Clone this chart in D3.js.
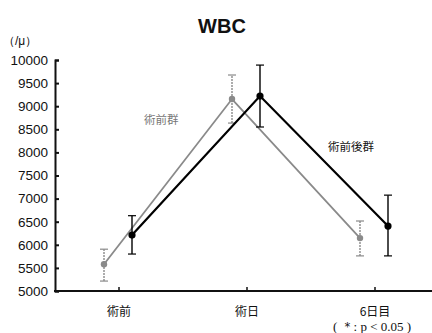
<html>
<head>
<style>
  body{margin:0;background:#fff}
  svg text{font-family:"Liberation Sans",Arial,sans-serif;fill:#111}
  .jp{font-family:"Noto Sans CJK JP",sans-serif}
</style>
</head>
<body>
<div id="chart"></div>
<script src="https://d3js.org/d3.v7.min.js"></script>
<script>
var categories = ['術前', '術日', '6日目'];
var yTicks = [5000, 5500, 6000, 6500, 7000, 7500, 8000, 8500, 9000, 9500, 10000];

// 術前群 (gray)
var preMean = [5580, 9155, 6145];
var preLow  = [5215, 8635, 5760];
var preHigh = [5905, 9675, 6515];

// 術前後群 (black)
var postMean = [6210, 9220, 6405];
var postLow  = [5800, 8550, 5760];
var postHigh = [6630, 9890, 7075];

var width = 432, height = 333;

var svg = d3.select('#chart').append('svg')
  .attr('width', width)
  .attr('height', height);

var x = d3.scalePoint()
  .domain(categories)
  .range([119, 375]);

var y = d3.scaleLinear()
  .domain([5000, 10000])
  .range([291, 60]);

// title
svg.append('text')
  .attr('x', 222).attr('y', 33)
  .attr('text-anchor', 'middle')
  .style('font-weight', 'bold')
  .style('font-size', '20px')
  .text('WBC');

svg.append('text')
  .attr('x', 3).attr('y', 45)
  .style('font-size', '12px')
  .text('（/μ）');

// y axis
var yAxis = d3.axisLeft(y).tickValues(yTicks).tickSize(-4).tickPadding(9).tickFormat(d3.format('d'));
var gy = svg.append('g').attr('transform', 'translate(55,0)').call(yAxis);
gy.select('.domain').attr('stroke', '#111').attr('stroke-width', 2);
gy.selectAll('.tick line').attr('stroke', '#111').attr('stroke-width', 2);
gy.selectAll('.tick text')
  .style('font-size', '13.5px')
  .attr('x', -7);

// x axis
svg.append('line')
  .attr('x1', 54).attr('x2', width)
  .attr('y1', y(5000)).attr('y2', y(5000))
  .attr('stroke', '#111').attr('stroke-width', 2);

svg.selectAll('.xtick').data(categories).enter().append('line')
  .attr('x1', function (d) { return x(d); })
  .attr('x2', function (d) { return x(d); })
  .attr('y1', y(5000)).attr('y2', y(5000) - 4)
  .attr('stroke', '#111').attr('stroke-width', 1.5);

svg.selectAll('.xlab').data(categories).enter().append('text')
  .attr('class', 'jp')
  .attr('x', function (d) { return x(d); })
  .attr('y', 316)
  .attr('text-anchor', 'middle')
  .style('font-size', '12px')
  .text(function (d) { return d; });

function drawSeries(mean, low, high, off, color, dash, lw, r) {
  var g = svg.append('g');
  var line = d3.line()
    .x(function (d, i) { return x(categories[i]) + off; })
    .y(function (d) { return y(d); });

  g.selectAll('.eb').data(mean).enter().append('line')
    .attr('x1', function (d, i) { return x(categories[i]) + off; })
    .attr('x2', function (d, i) { return x(categories[i]) + off; })
    .attr('y1', function (d, i) { return y(low[i]); })
    .attr('y2', function (d, i) { return y(high[i]); })
    .attr('stroke', color).attr('stroke-width', 1.4)
    .attr('stroke-dasharray', dash);

  [low, high].forEach(function (arr) {
    g.selectAll(null).data(arr).enter().append('line')
      .attr('x1', function (d, i) { return x(categories[i]) + off - 4; })
      .attr('x2', function (d, i) { return x(categories[i]) + off + 4; })
      .attr('y1', function (d) { return y(d); })
      .attr('y2', function (d) { return y(d); })
      .attr('stroke', color).attr('stroke-width', 1.2);
  });

  g.append('path')
    .attr('d', line(mean))
    .attr('fill', 'none')
    .attr('stroke', color)
    .attr('stroke-width', lw);

  g.selectAll('circle').data(mean).enter().append('circle')
    .attr('cx', function (d, i) { return x(categories[i]) + off; })
    .attr('cy', function (d) { return y(d); })
    .attr('r', r)
    .attr('fill', color);
}

drawSeries(preMean, preLow, preHigh, -15, '#8a8a8a', '2,1', 1.8, 3.2);
drawSeries(postMean, postLow, postHigh, 13, '#000', null, 2.2, 3.6);

svg.append('text')
  .attr('class', 'jp')
  .attr('x', 144).attr('y', 124)
  .style('font-size', '11.5px')
  .style('fill', '#777')
  .text('術前群');

svg.append('text')
  .attr('class', 'jp')
  .attr('x', 328).attr('y', 151)
  .style('font-size', '11.5px')
  .text('術前後群');

svg.append('text')
  .attr('x', 333).attr('y', 331)
  .style('font-family', '"Liberation Serif",serif')
  .style('font-size', '13px')
  .text('(  ＊: p < 0.05 )');
</script>
</body>
</html>
